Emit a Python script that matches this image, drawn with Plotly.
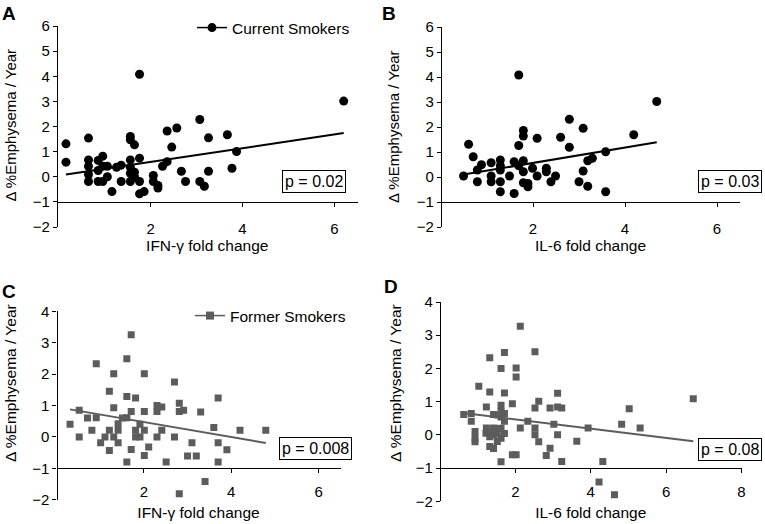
import plotly.graph_objects as go

# ---------------- data ----------------
a_x = [0.16, 0.16, 0.65, 0.65, 0.65, 0.65, 0.65, 0.86, 0.86, 0.86, 0.96, 0.96, 0.96, 1.06, 1.06,
       1.16, 1.26, 1.36, 1.36, 1.56, 1.56, 1.56, 1.56, 1.56, 1.56, 1.65, 1.65, 1.65, 1.76, 1.76,
       1.76, 1.76, 1.86, 2.06, 2.06, 2.16, 2.16, 2.26, 2.36, 2.36, 2.46, 2.57, 2.67, 2.76, 3.07,
       3.07, 3.17, 3.26, 3.26, 3.67, 3.77, 3.87, 6.2]
a_y = [1.31, 0.58, 1.54, 0.67, 0.42, 0.09, -0.19, 0.65, 0.25, -0.19, 0.82, 0.42, -0.19, 0.42, 0.0,
       -0.59, 0.38, 0.46, -0.19, 1.6, 1.47, 0.67, 0.38, 0.14, -0.19, 1.27, 0.18, 0.0, 4.08, 0.74,
       -0.19, -0.68, -0.59, 0.05, -0.19, -0.35, -0.45, 0.42, 1.82, 0.6, 1.18, 1.94, 0.22, -0.19, 2.28,
       -0.19, -0.38, 1.55, 0.22, 1.67, 0.34, 1.0, 3.01]

b_x = [0.49, 0.6, 0.7, 0.79, 0.79, 0.88, 1.09, 1.09, 1.09, 1.29, 1.29, 1.29, 1.29, 1.29, 1.49,
       1.59, 1.59, 1.69, 1.69, 1.69, 1.79, 1.79, 1.79, 1.79, 1.79, 1.89, 1.89, 1.99, 2.09, 2.09,
       2.29, 2.29, 2.39, 2.49, 2.6, 2.79, 2.79, 3.0, 3.09, 3.09, 3.19, 3.19, 3.29, 3.58, 3.58,
       4.19, 4.69]
b_y = [0.04, 1.31, 0.81, -0.19, 0.28, 0.49, 0.57, 0.04, -0.19, 0.68, 0.45, 0.28, -0.19, -0.59, 0.04,
       0.61, -0.66, 4.08, 1.26, 0.45, 1.86, 1.64, 0.65, 0.21, -0.23, -0.26, -0.39, 0.35, 1.55, 0.04,
       0.35, 0.21, -0.19, 0.04, 1.59, 1.19, 2.31, -0.19, 1.95, 0.24, 0.65, -0.37, 0.75, 1.01, -0.59,
       1.69, 3.02]

c_x = [0.31, 0.52, 0.52, 0.71, 0.81, 0.91, 0.91, 1.01, 1.11, 1.21, 1.21, 1.21, 1.31, 1.31, 1.31,
       1.41, 1.41, 1.41, 1.51, 1.61, 1.61, 1.61, 1.61, 1.71, 1.71, 1.71, 1.81, 1.81, 1.81, 1.91,
       1.91, 2.01, 2.01, 2.01, 2.01, 2.11, 2.3, 2.3, 2.3, 2.41, 2.41, 2.51, 2.7, 2.7, 2.81,
       2.81, 2.81, 2.91, 3.0, 3.1, 3.2, 3.3, 3.4, 3.6, 3.7, 3.7, 3.7, 3.9, 4.2, 4.79]
c_y = [0.40, 0.85, 0.0, 0.6, 0.21, 2.33, 0.61, -0.19, 0.0, 1.45, 0.21, -0.43, 2.01, 0.93, 0.0,
       0.42, 0.21, -0.19, 0.6, 2.49, 1.29, 0.61, -0.8, 3.25, 0.81, -0.4, 1.24, 0.21, 0.0, 0.4,
       0.0, 2.01, 0.81, 0.21, -0.59, -0.32, 1.0, 0.81, 0.0, 0.95, 0.21, -0.8, 1.75, 0.0, 1.07,
       0.81, -1.81, 0.85, -0.61, -0.19, -0.61, 0.79, -1.42, 0.3, 1.24, -0.19, -0.8, -0.41, 0.21, 0.21]

d_x = [0.63, 0.83, 0.83, 0.93, 0.93, 0.93, 1.03, 1.23, 1.23, 1.22, 1.32, 1.32, 1.32, 1.32, 1.32,
       1.42, 1.42, 1.42, 1.42, 1.52, 1.52, 1.52, 1.52, 1.62, 1.62, 1.62, 1.62, 1.62, 1.62, 1.62,
       1.71, 1.71, 1.71, 1.71, 1.71, 1.92, 1.92, 2.02, 2.02, 2.02, 2.13, 2.13, 2.33, 2.52, 2.52,
       2.52, 2.52, 2.62, 2.62, 2.82, 2.92, 2.92, 3.02, 3.12, 3.12, 3.12, 3.23, 3.23, 3.63, 3.93,
       4.22, 4.32, 4.63, 4.82, 5.02, 5.31, 6.72]
d_y = [0.61, 0.64, 0.41, 0.1, -0.1, -0.21, 1.46, 0.84, 0.21, 0.05, 2.32, 1.29, 0.1, -0.06, -0.35,
       0.61, 0.21, 0.0, -0.41, 0.6, 0.19, 0.05, -0.2, 2.0, 0.89, 0.7, 0.54, 0.2, -0.1, -0.81,
       2.48, 1.26, 0.64, 0.41, 0.04, 0.94, -0.6, 2.01, 1.74, -0.6, 3.27, 0.21, 0.41, 2.5, 0.81,
       0.21, 0.0, 1.01, -0.21, -0.62, 0.81, -0.4, 0.32, 1.25, 0.84, 0.0, 0.81, -0.8, -0.19, 0.21,
       -1.42, -0.8, -1.8, 0.32, 0.79, 0.21, 1.09]

# regression lines: (intercept, slope)
fit_a = (0.046, 0.273)
fit_b = (-0.054, 0.308)
fit_c = (0.951, -0.239)
fit_d = (0.748, -0.140)

p_labels = ["p = 0.02", "p = 0.03", "p = 0.008", "p = 0.08"]
panel_letters = ["A", "B", "C", "D"]
x_titles = ["IFN-\u03b3 fold change", "IL-6 fold change", "IFN-\u03b3 fold change", "IL-6 fold change"]
y_title = "\u0394 %Emphysema / Year"
legend_names = ["Current Smokers", "Former Smokers"]

# ---------------- layout ----------------
W, H = 765, 524
FONT = "Liberation Sans, Arial, sans-serif"
BLACK = "#000000"
GRAY = "#5c5c5c"

def px_x(p):
    return p / W

def px_y(p):
    return (H - p) / H

panels = [
    dict(xd=(57, 357.5), yd=(26, 227), xr=[-0.035, 6.5], yr=[-2, 6], xt=[2, 4, 6],
         data=(a_x, a_y), fit=fit_a, color=BLACK, symbol="circle", size=9,
         lab_off=9, tit_off=4, letter=(9, 13), box=(313.5, 181), ytit=(10, 125.5, 15)),
    dict(xd=(441, 740), yd=(27, 227), xr=[0, 6.5], yr=[-2, 6], xt=[2, 4, 6],
         data=(b_x, b_y), fit=fit_b, color=BLACK, symbol="circle", size=9,
         lab_off=9, tit_off=4, letter=(389, 13), box=(730, 181), ytit=(393, 126, 15)),
    dict(xd=(56.5, 340.5), yd=(311.3, 499.7), xr=[0, 6.5], yr=[-2, 4], xt=[2, 4, 6],
         data=(c_x, c_y), fit=fit_c, color=GRAY, symbol="square", size=7,
         lab_off=6, tit_off=7, letter=(9, 291), box=(315.5, 448.5), ytit=(10, 383, 15.5)),
    dict(xd=(440, 741.5), yd=(302, 501.3), xr=[0, 8], yr=[-2, 4], xt=[2, 4, 6, 8],
         data=(d_x, d_y), fit=fit_d, color=GRAY, symbol="square", size=7,
         lab_off=6, tit_off=7, letter=(391, 287), box=(730, 449.5), ytit=(395, 383, 15.5)),
]

fig = go.Figure()
layout = dict(
    template="none",
    width=W, height=H, margin=dict(l=0, r=0, t=0, b=0, pad=0, autoexpand=False),
    paper_bgcolor="white", plot_bgcolor="white",
    font=dict(family=FONT, size=15, color=BLACK),
    showlegend=True,
)

annotations = []
for i, p in enumerate(panels):
    n = i + 1
    xa = "x" if n == 1 else f"x{n}"
    ya = "y" if n == 1 else f"y{n}"
    xkey = "xaxis" if n == 1 else f"xaxis{n}"
    ykey = "yaxis" if n == 1 else f"yaxis{n}"
    xd = [px_x(p["xd"][0]), px_x(p["xd"][1])]
    yd = [px_y(p["yd"][1]), px_y(p["yd"][0])]
    pos = yd[0] + (-1 - p["yr"][0]) / (p["yr"][1] - p["yr"][0]) * (yd[1] - yd[0])

    xs, ys = p["data"]
    fig.add_trace(go.Scatter(
        x=xs, y=ys, mode="markers", xaxis=xa, yaxis=ya, showlegend=False,
        marker=dict(symbol=p["symbol"], size=p["size"], color=p["color"], line=dict(width=0)),
    ))
    b0, b1 = p["fit"]
    xmin, xmax = min(xs), max(xs)
    fig.add_trace(go.Scatter(
        x=[xmin, xmax], y=[b0 + b1 * xmin, b0 + b1 * xmax], mode="lines",
        xaxis=xa, yaxis=ya, showlegend=False,
        line=dict(color=p["color"], width=2),
    ))

    layout[xkey] = dict(
        domain=xd, range=p["xr"], anchor="free", position=pos, automargin=False,
        showline=True, linecolor=BLACK, linewidth=1.2, showgrid=False, zeroline=False,
        ticks="outside", ticklen=4, tickwidth=1.2, tickcolor=BLACK,
        tickvals=p["xt"], ticktext=[str(v) for v in p["xt"]], ticklabelstandoff=p["lab_off"],
        tickfont=dict(family=FONT, size=15, color=BLACK),
        title=dict(text=x_titles[i], font=dict(family=FONT, size=15.5, color=BLACK),
                   standoff=p["tit_off"]),
    )
    layout[ykey] = dict(
        domain=yd, range=p["yr"], anchor="free", position=xd[0], automargin=False,
        showline=True, linecolor=BLACK, linewidth=1.2, showgrid=False, zeroline=False,
        ticks="outside", ticklen=4, tickwidth=1.2, tickcolor=BLACK, dtick=1,
        tickfont=dict(family=FONT, size=15, color=BLACK),
    )

    # y-axis title (rotated text)
    tx, ty, tsize = p["ytit"]
    annotations.append(dict(
        text=y_title, xref="paper", yref="paper", x=px_x(tx), y=px_y(ty), textangle=-90,
        showarrow=False, xanchor="center", yanchor="middle",
        font=dict(family=FONT, size=tsize, color=BLACK),
    ))
    # panel letter
    lx, ly = p["letter"]
    annotations.append(dict(
        text=f"<b>{panel_letters[i]}</b>", xref="paper", yref="paper",
        x=px_x(lx), y=px_y(ly), showarrow=False,
        font=dict(family=FONT, size=19, color=BLACK), xanchor="center", yanchor="middle",
    ))
    # p-value box
    bx, by = p["box"]
    annotations.append(dict(
        text=p_labels[i], xref="paper", yref="paper",
        x=px_x(bx), y=px_y(by), showarrow=False,
        font=dict(family=FONT, size=16, color=BLACK), xanchor="center", yanchor="middle",
        bordercolor=BLACK, borderwidth=1, borderpad=2, bgcolor="white",
    ))

fig.add_trace(go.Scatter(
    x=[None], y=[None], mode="lines+markers", name=legend_names[0], legend="legend",
    line=dict(color=BLACK, width=1.5), marker=dict(symbol="circle", size=9, color=BLACK),
))
fig.add_trace(go.Scatter(
    x=[None], y=[None], mode="lines+markers", name=legend_names[1], legend="legend2",
    xaxis="x3", yaxis="y3",
    line=dict(color=GRAY, width=1.5), marker=dict(symbol="square", size=8, color=GRAY),
))
layout["legend"] = dict(
    x=px_x(192), y=px_y(28), xanchor="left", yanchor="middle", xref="paper", yref="paper",
    bgcolor="rgba(0,0,0,0)", borderwidth=0, itemwidth=30,
    font=dict(family=FONT, size=15.5, color=BLACK),
)
layout["legend2"] = dict(
    x=px_x(190), y=px_y(316), xanchor="left", yanchor="middle", xref="paper", yref="paper",
    bgcolor="rgba(0,0,0,0)", borderwidth=0, itemwidth=30,
    font=dict(family=FONT, size=15.5, color=BLACK),
)
layout["annotations"] = annotations
fig.update_layout(**layout)

fig.write_html("out.html", config={"displayModeBar": False},
               post_script="document.body.style.margin='0';")
